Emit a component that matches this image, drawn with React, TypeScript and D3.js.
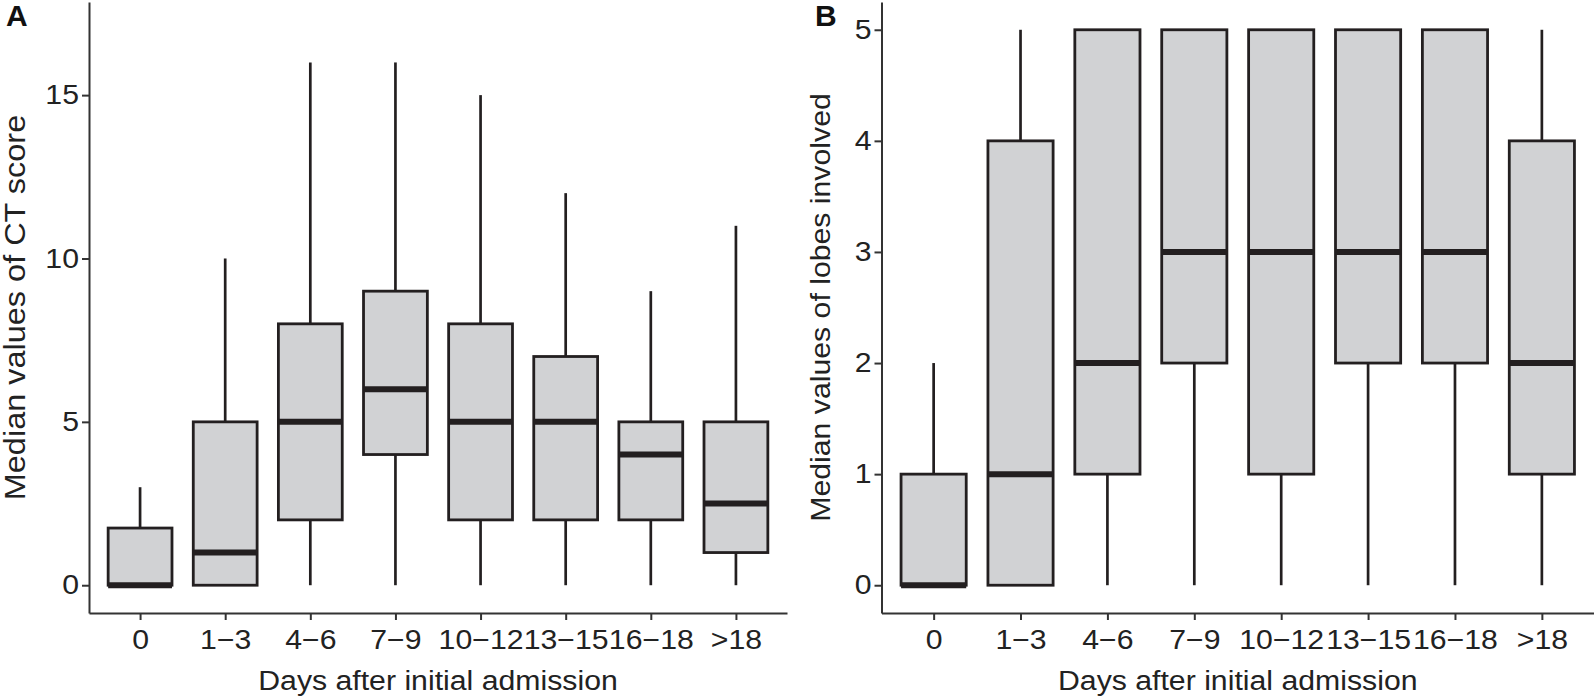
import React, { useEffect, useRef } from "react";
import * as d3 from "d3";

// day groups after admission
const categories = ["0", "1\u22123", "4\u22126", "7\u22129", "10\u221212", "13\u221215", "16\u221218", ">18"];

// panel A: CT score
const ctLow = [0, 0, 0, 0, 0, 0, 0, 0];
const ctQ1 = [0, 0, 2, 4, 2, 2, 2, 1];
const ctMedian = [0, 1, 5, 6, 5, 5, 4, 2.5];
const ctQ3 = [1.75, 5, 8, 9, 8, 7, 5, 5];
const ctHigh = [3, 10, 16, 16, 15, 12, 9, 11];
const ctTicks = [0, 5, 10, 15];

// panel B: lobes involved
const lobeLow = [0, 0, 0, 0, 0, 0, 0, 0];
const lobeQ1 = [0, 0, 1, 2, 1, 2, 2, 1];
const lobeMedian = [0, 1, 2, 3, 3, 3, 3, 2];
const lobeQ3 = [1, 4, 5, 5, 5, 5, 5, 4];
const lobeHigh = [2, 5, 5, 5, 5, 5, 5, 5];
const lobeTicks = [0, 1, 2, 3, 4, 5];

const FONT = "'Liberation Sans', Arial, Helvetica, sans-serif";
const INK = "#231f20";
const FILL = "#d1d2d4";
const FS = 27;

interface PanelProps {
  label: string;
  labelX: number;
  left: number;
  right: number;
  yDomain: [number, number];
  ticks: number[];
  low: number[];
  q1: number[];
  median: number[];
  q3: number[];
  high: number[];
  yTitle: string;
  yTitleX: number;
  yTitleSize: number;
  stretch: number; // the panels were resized unevenly, so text runs wide
}

const TOP = 2;
const BOTTOM = 613;

const Panel: React.FC<PanelProps> = (p) => {
  const xRef = useRef<SVGGElement | null>(null);
  const yRef = useRef<SVGGElement | null>(null);

  const x = d3.scalePoint<string>().domain(categories).range([p.left, p.right]).padding(0.6);
  const y = d3.scaleLinear().domain(p.yDomain).range([BOTTOM, TOP]);
  const boxW = x.step() * 0.75;
  const s = p.stretch;

  useEffect(() => {
    const xAxis = d3.axisBottom(x).tickSize(7).tickSizeOuter(0).tickPadding(10);
    const yAxis = d3.axisLeft(y).tickValues(p.ticks).tickSize(7).tickSizeOuter(0).tickPadding(3).tickFormat(d3.format("d"));

    const gx = d3.select(xRef.current);
    gx.selectAll("*").remove();
    gx.call(xAxis);
    const gy = d3.select(yRef.current);
    gy.selectAll("*").remove();
    gy.call(yAxis);

    [gx, gy].forEach((g) => {
      g.attr("font-family", FONT).attr("font-size", FS);
      g.select(".domain").attr("stroke", "#333").attr("stroke-width", 2);
      g.selectAll(".tick line").attr("stroke", "#333").attr("stroke-width", 2);
      g.selectAll(".tick text").attr("fill", "#222");
    });
    gx.selectAll(".tick text").attr("transform", `scale(${s},1)`);
    gy.selectAll(".tick text").attr("x", 0).attr("transform", `translate(-10,0) scale(${s},1)`);
  }, [p]);

  const cx = (i: number) => x(categories[i])!;
  const midX = (p.left + p.right) / 2;
  const midY = (TOP + BOTTOM) / 2;

  return (
    <g>
      {categories.map((c, i) => (
        <g key={c}>
          <line x1={cx(i)} x2={cx(i)} y1={y(p.q3[i])} y2={y(p.high[i])} stroke={INK} strokeWidth={2.7} />
          <line x1={cx(i)} x2={cx(i)} y1={y(p.q1[i])} y2={y(p.low[i])} stroke={INK} strokeWidth={2.7} />
          <rect
            x={cx(i) - boxW / 2}
            width={boxW}
            y={y(p.q3[i])}
            height={y(p.q1[i]) - y(p.q3[i])}
            fill={FILL}
            stroke={INK}
            strokeWidth={2.8}
          />
          <line
            x1={cx(i) - boxW / 2}
            x2={cx(i) + boxW / 2}
            y1={y(p.median[i])}
            y2={y(p.median[i])}
            stroke={INK}
            strokeWidth={6}
          />
        </g>
      ))}
      <g ref={xRef} transform={`translate(0,${BOTTOM})`} />
      <g ref={yRef} transform={`translate(${p.left},0)`} />
      <text
        transform={`translate(${midX},690) scale(${s},1)`}
        textAnchor="middle"
        fontFamily={FONT}
        fontSize={FS}
        fill="#222"
      >
        Days after initial admission
      </text>
      <text
        transform={`translate(${p.yTitleX},${midY}) rotate(-90) scale(${s},1)`}
        textAnchor="middle"
        fontFamily={FONT}
        fontSize={p.yTitleSize}
        fill="#222"
      >
        {p.yTitle}
      </text>
      <text x={p.labelX} y={26} fontFamily={FONT} fontSize={30} fontWeight="bold" fill="#111">
        {p.label}
      </text>
    </g>
  );
};

export default function App() {
  return (
    <svg width={1594} height={698} style={{ position: "absolute", left: 0, top: 0, background: "#fff" }}>
      <rect width={1594} height={698} fill="#fff" />
      <Panel
        label="A"
        labelX={6}
        left={89}
        right={787}
        yDomain={[-0.85, 17.85]}
        ticks={ctTicks}
        low={ctLow}
        q1={ctQ1}
        median={ctMedian}
        q3={ctQ3}
        high={ctHigh}
        yTitle="Median values of CT score"
        yTitleX={25}
        yTitleSize={29}
        stretch={1.12}
      />
      <Panel
        label="B"
        labelX={815}
        left={881.5}
        right={1594}
        yDomain={[-0.25, 5.25]}
        ticks={lobeTicks}
        low={lobeLow}
        q1={lobeQ1}
        median={lobeMedian}
        q3={lobeQ3}
        high={lobeHigh}
        yTitle="Median values of lobes involved"
        yTitleX={830}
        yTitleSize={27}
        stretch={1.12}
      />
    </svg>
  );
}
